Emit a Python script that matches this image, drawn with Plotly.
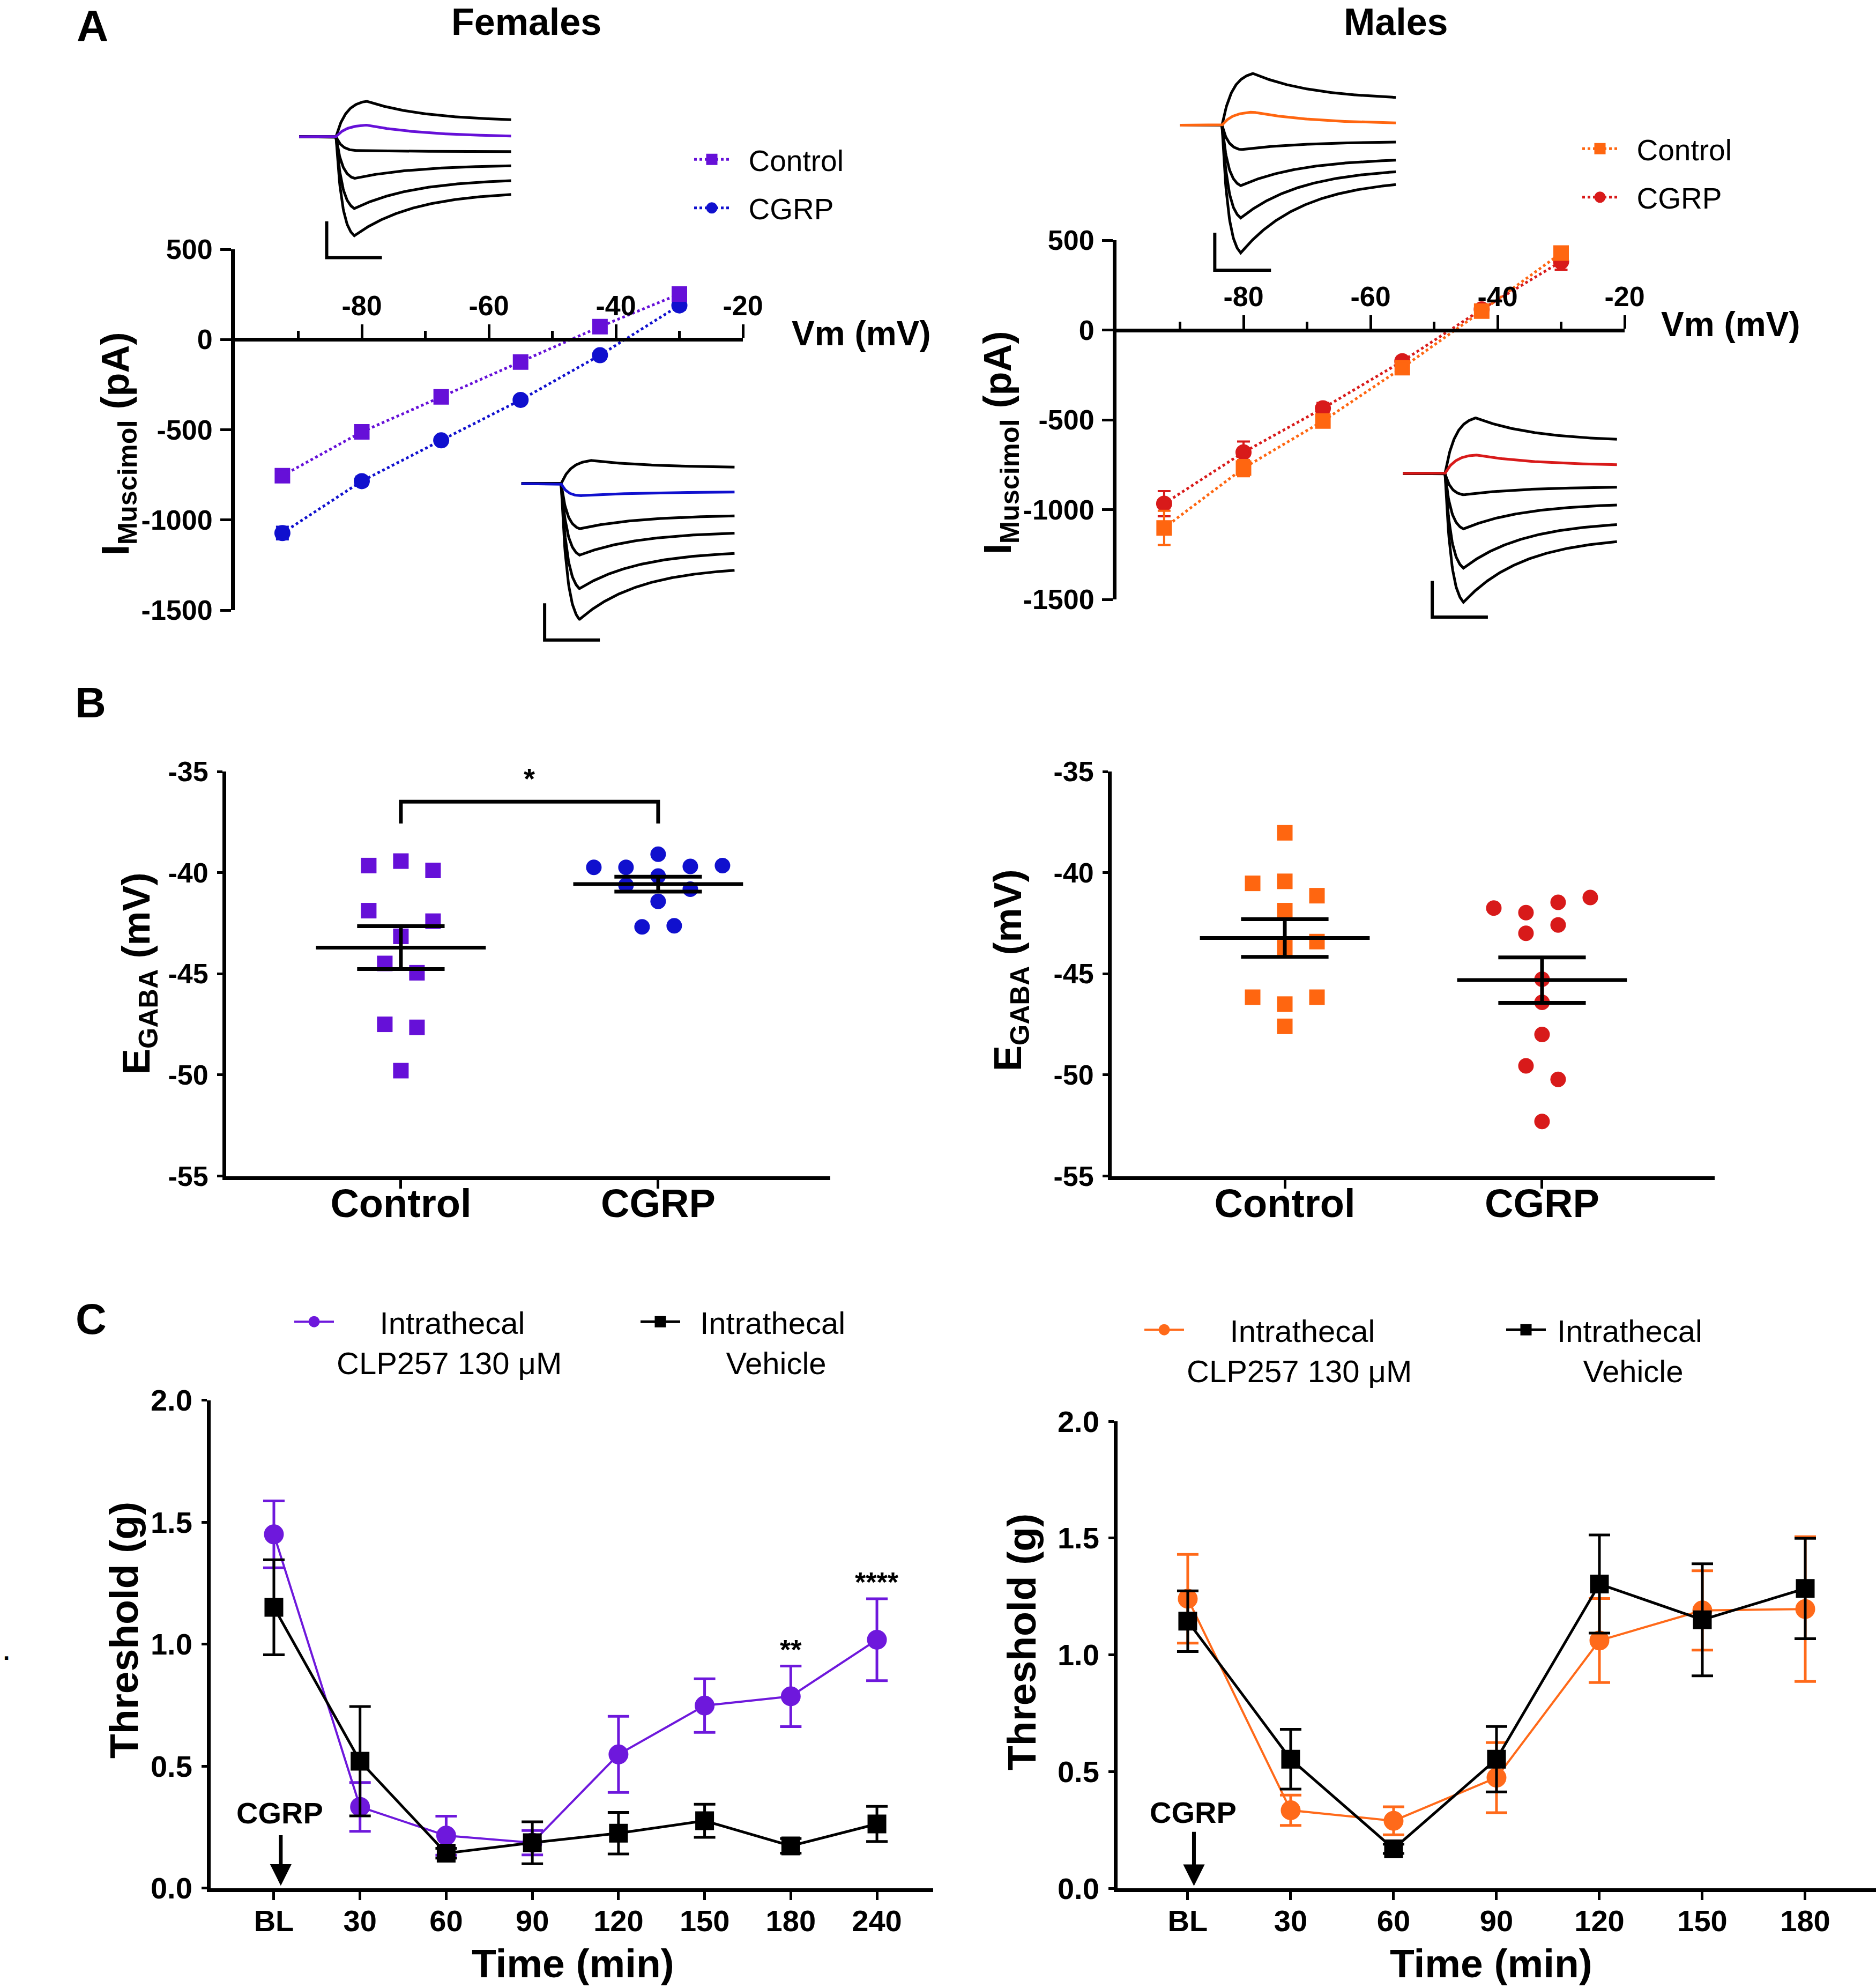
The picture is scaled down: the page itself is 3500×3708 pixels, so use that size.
import numpy as np
import plotly.graph_objects as go

W, H = 3500, 3708
FONT = "Liberation Sans, Arial, Helvetica, sans-serif"

# ---------------- Panel A : I-V relations (pA) ----------------
vm = [-92.5, -80, -67.5, -55, -42.5, -30]
a_f_ctrl = [-755, -512, -318, -125, 71, 252]
a_f_ctrl_err = [25, 20, 20, 20, 20, 25]
a_f_cgrp = [-1073, -785, -559, -335, -87, 189]
a_f_cgrp_err = [35, 25, 20, 20, 20, 25]
a_m_ctrl = [-1102, -769, -507, -210, 105, 428]
a_m_ctrl_err = [95, 45, 35, 35, 30, 30]
a_m_cgrp = [-967, -681, -436, -174, 115, 381]
a_m_cgrp_err = [70, 60, 30, 25, 20, 45]
a_xticks = [-80, -60, -40, -20]
a_xminor = [-90, -70, -50, -30]
a_yticks = [-1500, -1000, -500, 0, 500]

# example current traces (peak / end amplitude, in scale-bar units)
ins_f_ctrl_peak = [0.98, 0.32, -0.38, -1.15, -1.98, -2.73]
ins_f_ctrl_end = [0.47, 0.02, -0.41, -0.80, -1.21, -1.59]
ins_f_cgrp_peak = [0.63, -0.33, -1.23, -1.95, -2.86, -3.70]
ins_f_cgrp_end = [0.45, -0.23, -0.88, -1.35, -1.90, -2.36]
ins_m_ctrl_peak = [1.375, 0.35, -0.65, -1.61, -2.47, -3.40]
ins_m_ctrl_end = [0.74, 0.06, -0.45, -0.93, -1.24, -1.58]
ins_m_cgrp_peak = [1.53, 0.51, -0.59, -1.53, -2.61, -3.55]
ins_m_cgrp_end = [0.94, 0.24, -0.38, -0.87, -1.41, -1.88]

# ---------------- Panel B : E_GABA (mV) ----------------
b_categories = ["Control", "CGRP"]
b_f_ctrl = [-39.43, -39.65, -39.89, -41.88, -42.40, -43.15, -44.49, -44.95, -47.50, -47.65, -49.79]
b_f_cgrp = [-39.09, -39.65, -39.69, -39.74, -39.74, -40.17, -40.62, -40.82, -41.42, -42.63, -42.68]
b_m_ctrl = [-38.03, -40.43, -40.53, -41.14, -41.88, -43.41, -43.71, -46.16, -46.16, -46.50, -47.60]
b_m_cgrp = [-41.23, -41.47, -41.75, -41.98, -42.59, -43.00, -45.27, -46.41, -48.00, -49.55, -50.22, -52.30]
# scatter-dot arrangement (slot index within each column)
b_f_ctrl_slot = [0, -1, 1, -1, 1, 0, -0.5, 0.5, -0.5, 0.5, 0]
b_f_cgrp_slot = [0, 2, 1, -2, -1, 0, -1, 1, 0, 0.5, -0.5]
b_m_ctrl_slot = [0, 0, -1, 1, 0, 1, 0, -1, 1, 0, 0]
b_m_cgrp_slot = [1.5, 0.5, -1.5, -0.5, 0.5, -0.5, 0, 0, 0, -0.5, 0.5, 0]
b_yticks = [-55, -50, -45, -40, -35]

# ---------------- Panel C : von Frey thresholds (g) ----------------
c_f_labels = ["BL", "30", "60", "90", "120", "150", "180", "240"]
c_f_clp = [1.45, 0.333, 0.215, 0.186, 0.548, 0.748, 0.786, 1.018]
c_f_clp_err = [0.137, 0.10, 0.08, 0.05, 0.156, 0.11, 0.124, 0.168]
c_f_veh = [1.151, 0.52, 0.143, 0.186, 0.225, 0.276, 0.173, 0.263]
c_f_veh_err = [0.195, 0.224, 0.02, 0.086, 0.085, 0.068, 0.03, 0.072]
c_f_stars = {"180": "**", "240": "****"}
c_m_labels = ["BL", "30", "60", "90", "120", "150", "180"]
c_m_clp = [1.24, 0.334, 0.289, 0.474, 1.061, 1.19, 1.196]
c_m_clp_err = [0.19, 0.065, 0.06, 0.15, 0.18, 0.17, 0.31]
c_m_veh = [1.144, 0.553, 0.169, 0.553, 1.303, 1.15, 1.284]
c_m_veh_err = [0.13, 0.128, 0.02, 0.14, 0.21, 0.24, 0.215]
c_yticks = [0, 0.5, 1.0, 1.5, 2.0]

# ---------------- colours ----------------
F_CTRL = "#6610D8"
F_CGRP = "#1010CE"
F_CLP = "#6E18DC"
M_CTRL = "#FF6610"
M_CGRP = "#D81A1A"
M_CLP = "#FF6A1A"
BLACK = "#000000"
NB = "\u00a0"


def fx(p):
    return p / W


def fy(p):
    return 1 - p / H


def axis_style(**kw):
    d = dict(showline=True, linecolor="black", linewidth=7, ticks="outside",
             tickcolor="black", tickwidth=5, ticklen=16, showgrid=False,
             zeroline=False, fixedrange=True, automargin=False,
             tickfont=dict(family=FONT, size=52, color="black", weight="bold"))
    d.update(kw)
    return d


def hidden_axis(**kw):
    d = dict(visible=False, showgrid=False, zeroline=False, fixedrange=True)
    d.update(kw)
    return d


def num_labels(vals, fmt="{:g}"):
    return [fmt.format(v) for v in vals]


def mk(symbol, size, color):
    # an outline of the fill colour keeps the legend symbol large as well
    return dict(symbol=symbol, size=size - 5, color=color, line=dict(color=color, width=5))


fig = go.Figure()
lay = {}
annotations = []

# ======================= Panel A =======================
a_specs = [
    ("", 438, 1386, 465, 1138, a_f_ctrl, a_f_ctrl_err, a_f_cgrp, a_f_cgrp_err, (F_CTRL, F_CGRP), "legend"),
    ("2", 2083, 3031, 448, 1118, a_m_ctrl, a_m_ctrl_err, a_m_cgrp, a_m_cgrp_err, (M_CTRL, M_CGRP), "legend2"),
]
for sfx, x0, x1, yt, yb, ctrl, ctrl_e, cgrp, cgrp_e, cols, lg in a_specs:
    yr = [-1500, 500]
    ydom = [fy(yb), fy(yt)]
    zero_pos = ydom[0] + (0 - yr[0]) / (yr[1] - yr[0]) * (ydom[1] - ydom[0])
    lay["xaxis" + sfx] = axis_style(domain=[fx(x0), fx(x1)], range=[-100, -20], anchor="free",
                                    position=zero_pos, side="top", tickvals=a_xticks,
                                    ticktext=num_labels(a_xticks), ticklen=25, ticklabelstandoff=-4,
                                    minor=dict(tickvals=a_xminor, ticks="outside", ticklen=13,
                                               tickwidth=5, tickcolor="black"))
    lay["yaxis" + sfx] = axis_style(domain=ydom, range=yr, anchor="x" + sfx, tickvals=a_yticks,
                                    ticktext=num_labels(a_yticks), ticklen=20, ticklabelstandoff=4)
    xa, ya = "x" + sfx, "y" + sfx
    fig.add_trace(go.Scatter(x=vm, y=ctrl, mode="lines+markers", name=NB * 2 + "Control", legend=lg,
                             legendgroup=lg + "ctrl", legendrank=1,
                             line=dict(color=cols[0], width=5, dash="dot"),
                             marker=mk("square", 29, cols[0]),
                             error_y=dict(type="data", array=ctrl_e, color=cols[0], thickness=4, width=12),
                             xaxis=xa, yaxis=ya, visible=True))
    fig.add_trace(go.Scatter(x=vm, y=cgrp, mode="lines+markers", name=NB * 2 + "CGRP", legend=lg,
                             legendgroup=lg + "cgrp", legendrank=2,
                             line=dict(color=cols[1], width=5, dash="dot"),
                             marker=mk("circle", 30, cols[1]),
                             error_y=dict(type="data", array=cgrp_e, color=cols[1], thickness=4, width=12),
                             xaxis=xa, yaxis=ya))
    # keep the control series drawn on top of the CGRP series
    fig.data = fig.data[:-2] + (fig.data[-1], fig.data[-2])

leg_a = dict(xanchor="left", yanchor="top", bgcolor="rgba(0,0,0,0)", traceorder="grouped",
             font=dict(family=FONT, size=55, color="black"), itemwidth=66, tracegroupgap=16)
lay["legend"] = dict(leg_a, x=fx(1290), y=fy(255))
lay["legend2"] = dict(leg_a, x=fx(2947), y=fy(235))


# example current traces (insets)
def current_trace(t, pk, end, tp, T, tau_d=1.1):
    tau_r = tp / 3.0
    y = np.zeros_like(t)
    rise = (t >= 0) & (t < tp)
    y[rise] = pk * (1 - np.exp(-t[rise] / tau_r)) / (1 - np.exp(-tp / tau_r))
    e = np.exp(-(T - tp) / tau_d)
    ss = (end - pk * e) / (1 - e)
    dec = t >= tp
    y[dec] = ss + (pk - ss) * np.exp(-(t[dec] - tp) / tau_d)
    return y


insets = [
    # onset px, baseline px, px per t-unit, px per amp-unit, t start, t end, bar t, bar top, peaks, ends, colour
    (627, 255, 103.0, 67.7, -0.67, 3.17, -0.17, -2.33, ins_f_ctrl_peak, ins_f_ctrl_end, F_CTRL),
    (1047, 902, 103.0, 68.5, -0.72, 3.14, -0.30, -3.26, ins_f_cgrp_peak, ins_f_cgrp_end, F_CGRP),
    (2280, 233.5, 104.9, 70.1, -0.745, 3.09, -0.13, -2.86, ins_m_ctrl_peak, ins_m_ctrl_end, M_CTRL),
    (2696, 883, 103.8, 67.7, -0.76, 3.09, -0.23, -2.96, ins_m_cgrp_peak, ins_m_cgrp_end, M_CGRP),
]
for k, (on, base, ux, uy, t0, t1, bt, btop, peaks, ends, col) in enumerate(insets):
    n = 7 + k
    xr = [t0 - 0.1, t1 + 0.1]
    yr = [min(min(peaks), btop - 1) - 0.15, max(peaks) + 0.15]
    lay["xaxis%d" % n] = hidden_axis(domain=[fx(on + xr[0] * ux), fx(on + xr[1] * ux)], range=xr,
                                     anchor="y%d" % n)
    lay["yaxis%d" % n] = hidden_axis(domain=[fy(base - yr[0] * uy), fy(base - yr[1] * uy)], range=yr,
                                     anchor="x%d" % n)
    t = np.linspace(t0, t1, 400)
    for i in [0, 2, 3, 4, 5, 1]:
        tp = 0.55 if peaks[i] > 0.2 else 0.33
        fig.add_trace(go.Scatter(x=t, y=current_trace(t, peaks[i], ends[i], tp, t1), mode="lines",
                                 line=dict(color=col if i == 1 else BLACK, width=5),
                                 showlegend=False, hoverinfo="skip",
                                 xaxis="x%d" % n, yaxis="y%d" % n))
    fig.add_trace(go.Scatter(x=[bt, bt, bt + 1], y=[btop, btop - 1, btop - 1], mode="lines",
                             line=dict(color=BLACK, width=6), showlegend=False, hoverinfo="skip",
                             xaxis="x%d" % n, yaxis="y%d" % n))

# ======================= Panel B =======================
SLOT = 0.125
b_specs = [
    ("3", 422, 1549, [-0.679, 1.669], b_f_ctrl, b_f_ctrl_slot, b_f_cgrp, b_f_cgrp_slot, (F_CTRL, F_CGRP), True),
    ("4", 2074, 3199, [-0.673, 1.671], b_m_ctrl, b_m_ctrl_slot, b_m_cgrp, b_m_cgrp_slot, (M_CTRL, M_CGRP), False),
]
for sfx, x0, x1, xr, ctrl, cs, cgrp, gs, cols, sig in b_specs:
    lay["xaxis" + sfx] = axis_style(domain=[fx(x0), fx(x1)], range=xr, anchor="y" + sfx,
                                    tickvals=[0, 1], ticktext=b_categories, ticklen=16,
                                    ticklabelstandoff=-35,
                                    tickfont=dict(family=FONT, size=74, color="black", weight="bold"))
    lay["yaxis" + sfx] = axis_style(domain=[fy(2193.5), fy(1439)], range=[-55, -35], anchor="x" + sfx,
                                    tickvals=b_yticks, ticktext=num_labels(b_yticks),
                                    ticklen=10, ticklabelstandoff=6)
    xa, ya = "x" + sfx, "y" + sfx
    for gi, (vals, slots, sym, col) in enumerate([(ctrl, cs, "square", cols[0]), (cgrp, gs, "circle", cols[1])]):
        vals = np.array(vals)
        fig.add_trace(go.Scatter(x=[gi + s * SLOT for s in slots], y=vals, mode="markers",
                                 marker=dict(symbol=sym, size=29, color=col), showlegend=False,
                                 xaxis=xa, yaxis=ya))
        m = vals.mean()
        se = vals.std(ddof=1) / np.sqrt(len(vals))
        fig.add_trace(go.Scatter(
            x=[gi - 0.33, gi + 0.33, None, gi - 0.17, gi + 0.17, None, gi - 0.17, gi + 0.17, None, gi, gi],
            y=[m, m, None, m + se, m + se, None, m - se, m - se, None, m - se, m + se],
            mode="lines", line=dict(color=BLACK, width=7), showlegend=False, hoverinfo="skip",
            xaxis=xa, yaxis=ya))
    if sig:
        top = max(max(ctrl), max(cgrp))
        fig.add_trace(go.Scatter(x=[0, 0, 1, 1], y=[top + 1.52, top + 2.6, top + 2.6, top + 1.52],
                                 mode="lines", line=dict(color=BLACK, width=7), showlegend=False,
                                 hoverinfo="skip", xaxis=xa, yaxis=ya))
        annotations.append(dict(x=0.5, y=top + 2.6, xref=xa, yref=ya, text="*", showarrow=False,
                                yanchor="bottom", yshift=11,
                                font=dict(family=FONT, size=54, color="black", weight="bold")))

# ======================= Panel C =======================
c_specs = [
    ("5", 393, 1741, 2611.5, 3521.7, [-0.734, 7.653], c_f_labels, c_f_clp, c_f_clp_err, c_f_veh, c_f_veh_err,
     F_CLP, ("legend3", "legend4"), 2),
    ("6", 2085, 3500, 2651, 3522, [-0.682, 6.6875], c_m_labels, c_m_clp, c_m_clp_err, c_m_veh, c_m_veh_err,
     M_CLP, ("legend5", "legend6"), 1),
]
CLP_NAME = NB * 5 + "Intrathecal<br>CLP257 130 \u03bcM"
for sfx, x0, x1, yt, yb, xr, labels, clp, clp_e, veh, veh_e, col, lgs, pad in c_specs:
    idx = list(range(len(labels)))
    lay["xaxis" + sfx] = axis_style(domain=[fx(x0), fx(x1)], range=xr, anchor="y" + sfx,
                                    tickvals=idx, ticktext=labels, ticklen=15, ticklabelstandoff=-9,
                                    tickfont=dict(family=FONT, size=56, color="black", weight="bold"))
    lay["yaxis" + sfx] = axis_style(domain=[fy(yb), fy(yt)], range=[0, 2.0], anchor="x" + sfx,
                                    tickvals=c_yticks, tickformat=".1f", ticklen=10, ticklabelstandoff=6,
                                    tickfont=dict(family=FONT, size=56, color="black", weight="bold"))
    xa, ya = "x" + sfx, "y" + sfx
    veh_name = NB * pad + "Intrathecal<br>" + NB * (pad + 3) + "Vehicle"
    fig.add_trace(go.Scatter(x=idx, y=clp, mode="lines+markers", name=CLP_NAME, legend=lgs[0],
                             line=dict(color=col, width=4), marker=mk("circle", 37, col),
                             error_y=dict(type="data", array=clp_e, color=col, thickness=5, width=20),
                             xaxis=xa, yaxis=ya))
    fig.add_trace(go.Scatter(x=idx, y=veh, mode="lines+markers", name=veh_name, legend=lgs[1],
                             line=dict(color=BLACK, width=5), marker=mk("square", 35, BLACK),
                             error_y=dict(type="data", array=veh_e, color=BLACK, thickness=5, width=20),
                             xaxis=xa, yaxis=ya))

leg_c = dict(xanchor="left", yanchor="top", bgcolor="rgba(0,0,0,0)", valign="top",
             font=dict(family=FONT, size=58, color="black"), itemwidth=74)
lay["legend3"] = dict(leg_c, x=fx(544), y=fy(2421))
lay["legend4"] = dict(leg_c, x=fx(1190), y=fy(2421))
lay["legend5"] = dict(leg_c, x=fx(2130), y=fy(2436))
lay["legend6"] = dict(leg_c, x=fx(2805), y=fy(2436))

# significance stars (female C)
for lab, s in c_f_stars.items():
    i = c_f_labels.index(lab)
    annotations.append(dict(x=i, y=c_f_clp[i] + c_f_clp_err[i], xref="x5", yref="y5", text=s,
                            showarrow=False, yanchor="bottom", yshift=0,
                            font=dict(family=FONT, size=52, color="black", weight="bold")))

# CGRP injection arrows
for xa, ya, tx, ty, tail in [("x5", "y5", 0.07, 0.307, 0.22), ("x6", "y6", 0.05, 0.324, 0.245)]:
    annotations.append(dict(x=tx, y=ty, xref=xa, yref=ya, text="CGRP", showarrow=False,
                            font=dict(family=FONT, size=56, color="black", weight="bold")))
    annotations.append(dict(x=tx + 0.01, y=0.01, ax=tx + 0.01, ay=tail, xref=xa, yref=ya,
                            axref=xa, ayref=ya, text="", showarrow=True, arrowhead=2,
                            arrowsize=1.15, arrowwidth=7, arrowcolor="black"))


# ======================= text labels =======================
def txt(x, y, s, size, bold=True, angle=0):
    annotations.append(dict(x=fx(x), y=fy(y), xref="paper", yref="paper", text=s, showarrow=False,
                            textangle=angle, xanchor="center", yanchor="middle",
                            font=dict(family=FONT, size=size, color="black",
                                      weight="bold" if bold else "normal")))


txt(172, 48, "A", 82)
txt(169, 1310, "B", 80)
txt(170, 2460, "C", 80)
txt(982, 41, "Females", 70)
txt(2604, 41, "Males", 70)
txt(1607, 622, "Vm (mV)", 64)
txt(3229, 605, "Vm (mV)", 64)
txt(220, 828, "I<sub>Muscimol</sub> (pA)", 72, angle=-90)
txt(1866, 826, "I<sub>Muscimol</sub> (pA)", 72, angle=-90)
txt(259, 1816, "E<sub>GABA</sub> (mV)", 72, angle=-90)
txt(1886, 1810, "E<sub>GABA</sub> (mV)", 72, angle=-90)
txt(231, 3041, "Threshold (g)", 75, angle=-90)
txt(1906, 3063, "Threshold (g)", 75, angle=-90)
txt(1069, 3662, "Time (min)", 75)
txt(2782, 3662, "Time (min)", 75)
txt(12, 3080, ".", 44)

fig.update_layout(width=W, height=H, margin=dict(l=0, r=0, t=0, b=0, autoexpand=False),
                  paper_bgcolor="white", plot_bgcolor="rgba(0,0,0,0)",
                  font=dict(family=FONT, color="black"),
                  showlegend=True, annotations=annotations, **lay)
fig.write_html("out.html", config={"displayModeBar": False},
               post_script="document.body.style.margin='0px';")
